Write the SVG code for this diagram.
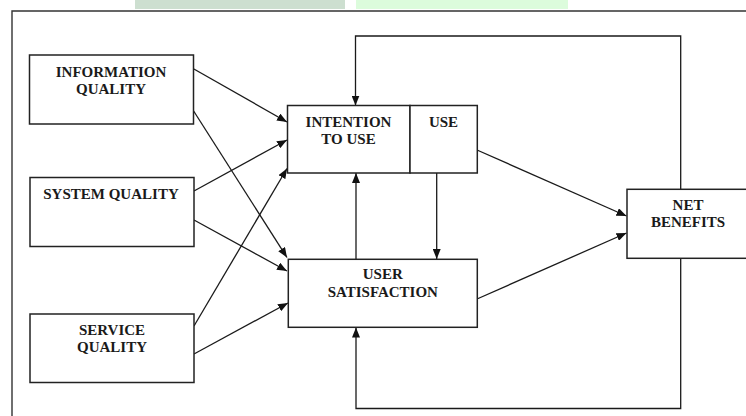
<svg xmlns="http://www.w3.org/2000/svg" width="746" height="416" viewBox="0 0 746 416">
<defs>
<marker id="ah" markerUnits="userSpaceOnUse" markerWidth="10" markerHeight="8" refX="10" refY="4" orient="auto">
<path d="M0,0 L10,4 L0,8 z" fill="#111"/>
</marker>
<style>
.box{fill:#fff;stroke:#222;stroke-width:1.5}
.t{font-family:"Liberation Serif","Times New Roman",serif;font-weight:bold;font-size:15px;fill:#1a1a1a;text-anchor:middle}
.c{fill:none;stroke:#1a1a1a;stroke-width:1.3}
.a{marker-end:url(#ah)}
</style>
</defs>
<rect width="746" height="416" fill="#fff"/>
<rect x="135" y="0" width="210" height="9" fill="#cddfd0"/>
<rect x="356" y="0" width="212" height="9" fill="#dcfcdc"/>
<path d="M12,416 V11 H746" fill="none" stroke="#333" stroke-width="1.4"/>

<g id="connectors">
<line class="c a" x1="193" y1="68.5" x2="287" y2="122"/>
<line class="c a" x1="193" y1="110" x2="287" y2="257.5"/>
<line class="c a" x1="194" y1="191" x2="287" y2="140"/>
<line class="c a" x1="194" y1="220" x2="287" y2="271"/>
<line class="c a" x1="194" y1="326" x2="287" y2="168.5"/>
<line class="c a" x1="194" y1="354" x2="288" y2="303"/>
<line class="c a" x1="477" y1="150" x2="626.5" y2="216"/>
<line class="c a" x1="477" y1="299" x2="626.5" y2="233"/>
<polyline class="c a" points="680.7,189 680.7,36 355.5,36 355.5,105.5"/>
<polyline class="c a" points="680.7,258.5 680.7,408.5 356,408.5 356,327.5"/>
<line class="c a" x1="356" y1="259" x2="356" y2="173"/>
<line class="c a" x1="436.7" y1="173" x2="436.7" y2="259"/>
</g>

<g id="information-quality">
<rect class="box" x="29.5" y="55" width="164" height="69"/>
<text class="t" x="111" y="77">INFORMATION</text>
<text class="t" x="111" y="93.5">QUALITY</text>
</g>
<g id="system-quality">
<rect class="box" x="30" y="177.5" width="164" height="69"/>
<text class="t" x="111" y="198.5">SYSTEM QUALITY</text>
</g>
<g id="service-quality">
<rect class="box" x="30" y="314" width="164" height="68.5"/>
<text class="t" x="112" y="335">SERVICE</text>
<text class="t" x="112" y="352">QUALITY</text>
</g>
<g id="intention-to-use">
<rect class="box" x="287.5" y="105.5" width="122.5" height="67.5"/>
<text class="t" x="348.5" y="126.5">INTENTION</text>
<text class="t" x="348.5" y="143.5">TO USE</text>
</g>
<g id="use">
<rect class="box" x="410" y="105.5" width="67.3" height="67.5"/>
<text class="t" x="443.5" y="126.5">USE</text>
</g>
<g id="user-satisfaction">
<rect class="box" x="288.3" y="259.3" width="189" height="68"/>
<text class="t" x="382.8" y="279.3">USER</text>
<text class="t" x="382.8" y="296.5">SATISFACTION</text>
</g>
<g id="net-benefits">
<rect class="box" x="627" y="189.3" width="122" height="69"/>
<text class="t" x="688" y="210">NET</text>
<text class="t" x="688" y="227.3">BENEFITS</text>
</g>
</svg>
